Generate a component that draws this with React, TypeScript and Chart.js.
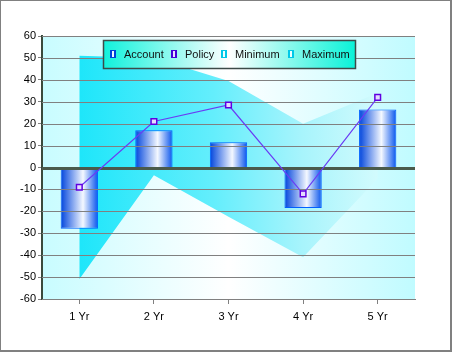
import React, { useEffect, useRef } from "react";
import { Chart, registerables } from "chart.js";

Chart.register(...registerables);

const categories = ["1 Yr", "2 Yr", "3 Yr", "4 Yr", "5 Yr"];
const accountValues = [-28, 17, 11.5, -18.5, 26.5];
const policyValues = [-9, 21, 28.5, -12, 32];
const minimumValues = [-51, -3.5, -22.5, -41, -5];
const maximumValues = [51, 50, 39.5, 20, 34];
const legendLabels = ["Account", "Policy", "Minimum", "Maximum"];
const yMin = -60;
const yMax = 60;
const yStep = 10;

const FONT = "'Liberation Sans', Arial, sans-serif";

function barGradient(ctx: any) {
  const chart = ctx.chart;
  const xs = chart.scales && chart.scales.x;
  if (!chart.chartArea || !xs) return "#2060f0";
  const cx = xs.getPixelForValue(ctx.dataIndex);
  const w = (xs.width / categories.length) * 0.5;
  const g = chart.ctx.createLinearGradient(cx - w / 2, 0, cx + w / 2, 0);
  g.addColorStop(0, "#0044dc");
  g.addColorStop(0.6, "#f4f8ff");
  g.addColorStop(1, "#0854ec");
  return g;
}

function bandGradient(ctx: any) {
  const chart = ctx.chart;
  const xs = chart.scales && chart.scales.x;
  if (!chart.chartArea || !xs) return "#40e8fa";
  const x0 = xs.getPixelForValue(0);
  const x1 = xs.getPixelForValue(categories.length - 1);
  const g = chart.ctx.createLinearGradient(x0, 0, x1, 0);
  g.addColorStop(0, "#1ee6fa");
  g.addColorStop(0.45, "#64eefc");
  g.addColorStop(0.75, "#a8f4fc");
  g.addColorStop(1, "#d2fbfd");
  return g;
}

const backgroundPlugin = {
  id: "bgPlot",
  beforeDraw(chart: any) {
    const { ctx, chartArea: a, width, height } = chart;
    ctx.save();
    ctx.fillStyle = "#ffffff";
    ctx.fillRect(0, 0, width, height);
    const g = ctx.createLinearGradient(a.left, 0, a.right, 0);
    g.addColorStop(0, "#c8fcff");
    g.addColorStop(0.5, "#ffffff");
    g.addColorStop(1, "#c0fbff");
    ctx.fillStyle = g;
    ctx.fillRect(a.left, a.top, a.right - a.left, a.bottom - a.top);
    ctx.restore();
  },
  afterDatasetDraw(chart: any, args: any) {
    if (args.index !== 0) return;
    const { ctx, chartArea: a } = chart;
    const ys = chart.scales.y;
    ctx.save();
    ys.ticks.forEach((t: any) => {
      const y = Math.round(ys.getPixelForValue(t.value));
      if (t.value === 0) {
        ctx.fillStyle = "#4a5a4c";
        ctx.fillRect(a.left, y - 1, a.right - a.left, 3);
      } else {
        ctx.fillStyle = "#808080";
        ctx.fillRect(a.left, y, a.right - a.left, 1);
      }
    });
    ctx.restore();
  },
  afterDraw(chart: any) {
    const { ctx, width, height } = chart;
    ctx.save();
    ctx.fillStyle = "#808080";
    ctx.fillRect(0, 0, width, 1);
    ctx.fillRect(0, 0, 1, height);
    ctx.fillRect(width - 2, 0, 2, height);
    ctx.fillRect(0, height - 2, width, 2);

    // legend
    const lx = 103, ly = 40, lw = 253, lh = 29;
    const lg = ctx.createLinearGradient(lx, 0, lx + lw, 0);
    lg.addColorStop(0, "#10f2dc");
    lg.addColorStop(0.5, "#ffffff");
    lg.addColorStop(1, "#08f2d8");
    ctx.fillStyle = lg;
    ctx.fillRect(lx, ly, lw, lh);
    ctx.strokeStyle = "#3c4a48";
    ctx.lineWidth = 1.5;
    ctx.strokeRect(lx + 0.5, ly + 0.5, lw - 1, lh - 1);

    const iconX = [110, 171, 221, 288];
    const iconColors = [
      ["#0040d8", "#f0f6ff"],
      ["#4400d8", "#e8e0ff"],
      ["#00c8e8", "#f0ffff"],
      ["#00c8e8", "#f0ffff"],
    ];
    ctx.font = "11px " + FONT;
    ctx.textBaseline = "middle";
    ctx.textAlign = "left";
    legendLabels.forEach((label, i) => {
      const x = iconX[i];
      ctx.fillStyle = iconColors[i][0];
      ctx.fillRect(x, 50, 6, 8);
      ctx.fillStyle = iconColors[i][1];
      ctx.fillRect(x + 2, 51, 2, 6);
      ctx.fillStyle = "#101010";
      ctx.fillText(label, x + 14, 54.5);
    });
    ctx.restore();
  },
};

export default function App() {
  const ref = useRef<HTMLCanvasElement | null>(null);

  useEffect(() => {
    document.body.style.margin = "0";
    const canvas = ref.current!;
    const chart = new Chart(canvas, {
      type: "bar",
      data: {
        labels: categories,
        datasets: [
          {
            type: "bar",
            label: legendLabels[0],
            data: accountValues,
            backgroundColor: barGradient as any,
            borderColor: "#0060ff",
            borderWidth: 1,
            barPercentage: 0.5,
            categoryPercentage: 1,
            order: 1,
          },
          {
            type: "line",
            label: legendLabels[1],
            data: policyValues,
            borderColor: "#6a3cf4",
            borderWidth: 1.2,
            pointStyle: "rect",
            pointRadius: 4,
            pointBorderWidth: 1.5,
            pointBorderColor: "#6000e0",
            pointBackgroundColor: "#e4dcff",
            fill: false,
            tension: 0,
            order: 0,
          },
          {
            type: "line",
            label: legendLabels[2],
            data: minimumValues,
            borderWidth: 0,
            borderColor: "rgba(0,0,0,0)",
            pointRadius: 0,
            fill: false,
            order: 3,
          },
          {
            type: "line",
            label: legendLabels[3],
            data: maximumValues,
            borderWidth: 0,
            borderColor: "rgba(0,0,0,0)",
            backgroundColor: bandGradient as any,
            pointRadius: 0,
            fill: 2,
            order: 2,
          },
        ],
      },
      options: {
        animation: false,
        responsive: false,
        maintainAspectRatio: false,
        layout: { padding: { left: 0, right: 37, top: 36, bottom: 0 } },
        plugins: {
          legend: { display: false },
          tooltip: { enabled: false },
        },
        scales: {
          x: {
            offset: true,
            grid: {
              display: true,
              offset: false,
              drawOnChartArea: false,
              drawTicks: true,
              tickLength: 5,
              color: "#808080",
            },
            border: { display: true, color: "#808080", width: 1 },
            ticks: {
              color: "#000",
              font: { family: FONT, size: 11 },
              padding: 6,
            },
            afterFit(scale: any) {
              scale.height = 53;
            },
          },
          y: {
            min: yMin,
            max: yMax,
            ticks: {
              stepSize: yStep,
              color: "#000",
              font: { family: FONT, size: 11 },
              padding: 2,
            },
            grid: {
              color: "#808080",
              lineWidth: 1,
              tickLength: 4,
              drawTicks: true,
              drawOnChartArea: false,
            },
            border: { display: true, color: "#3a4a3c", width: 2 },
            afterFit(scale: any) {
              scale.width = 42;
            },
          },
        },
      },
      plugins: [backgroundPlugin],
    });
    return () => chart.destroy();
  }, []);

  return (
    <canvas
      ref={ref}
      width={452}
      height={352}
      style={{ display: "block", width: 452, height: 352 }}
    />
  );
}
